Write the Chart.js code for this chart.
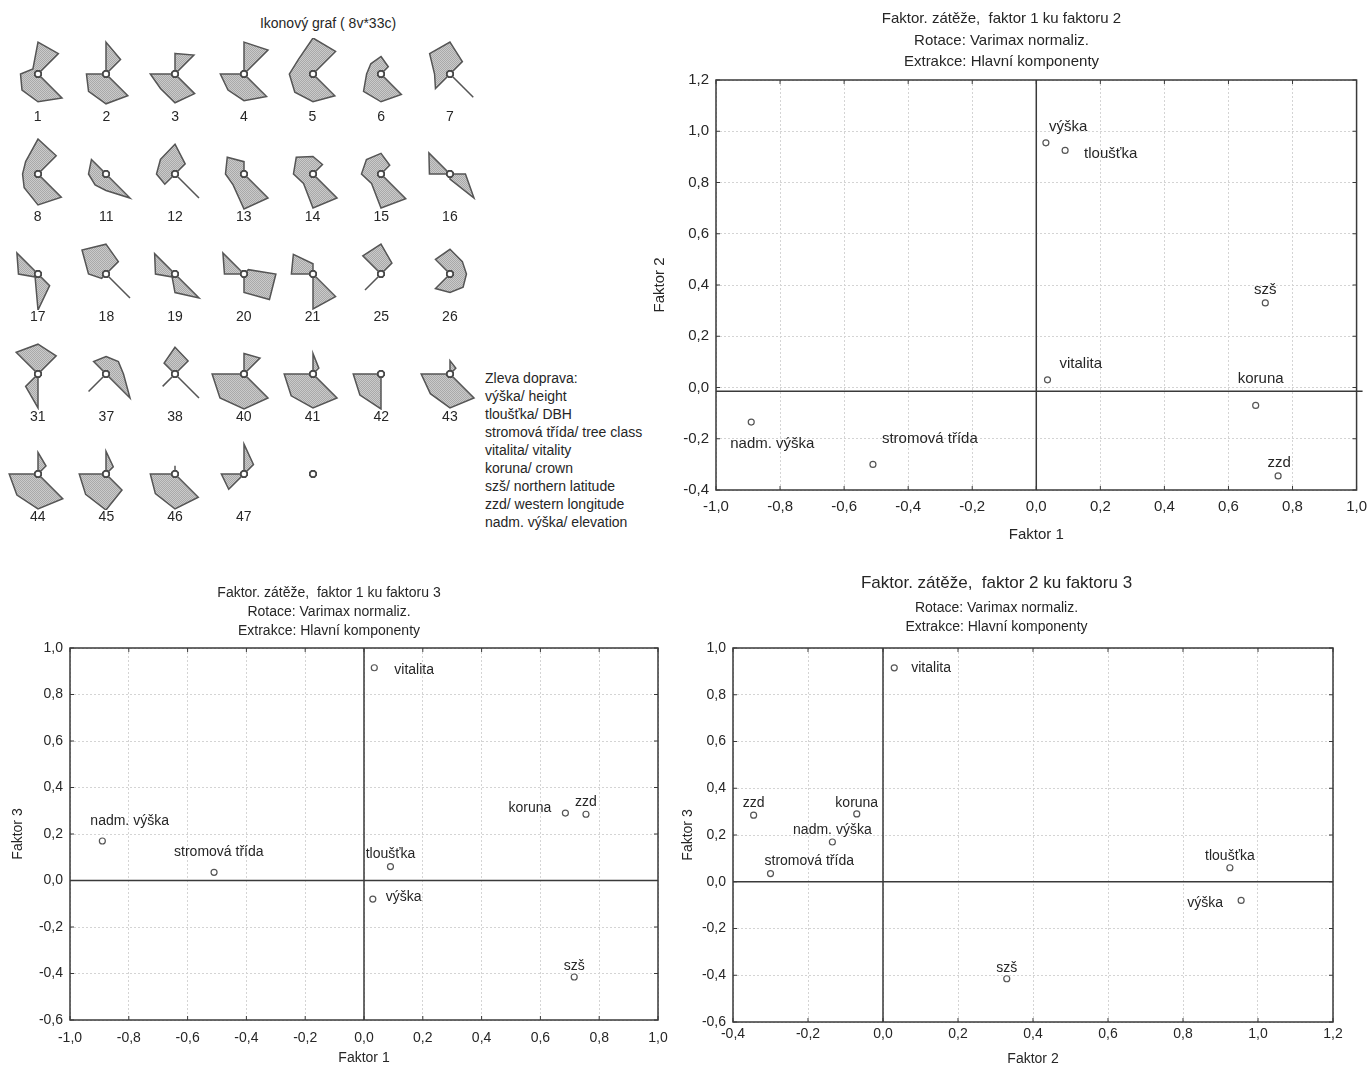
<!DOCTYPE html>
<html>
<head>
<meta charset="utf-8">
<title>Ikonový graf a faktorové zátěže</title>
<script src="https://cdn.jsdelivr.net/npm/chart.js@4.4.1/dist/chart.umd.min.js"></script>
<style>
  html, body { margin: 0; padding: 0; background: #fff; }
  body { width: 1370px; height: 1068px; position: relative; overflow: hidden;
         font-family: 'Liberation Sans', Arial, sans-serif; color: #262626; }
  canvas { position: absolute; }
  .case { position: absolute; width: 40px; text-align: center; font-size: 14px; line-height: 16px; }
  #iconTitle { position: absolute; left: 228px; top: 15px; width: 200px; text-align: center;
               font-size: 14px; line-height: 16px; }
  #legend { position: absolute; left: 485px; top: 369px; font-size: 14px; line-height: 18px; white-space: nowrap; }
</style>
</head>
<body>
<div id="iconTitle">Ikonový graf ( 8v*33c)</div>
<div id="legend"></div>
<canvas id="f12" width="730" height="545" style="left:645px;top:0px"></canvas>
<canvas id="f13" width="724" height="508" style="left:0px;top:560px"></canvas>
<canvas id="f23" width="700" height="508" style="left:660px;top:560px"></canvas>
<script>
// --- icon graph: 33 cases, 8 variables (rays clockwise from 12 o'clock)
const caseLabels = ['1', '2', '3', '4', '5', '6', '7', '8', '11', '12', '13', '14', '15', '16', '17', '18',
  '19', '20', '21', '25', '26', '31', '37', '38', '40', '41', '42', '43', '44', '45', '46', '47', ''];
const variables = ['výška', 'tloušťka', 'stromová třída', 'vitalita', 'koruna', 'szš', 'zzd', 'nadm. výška'];
const vyska     = [31, 31, 20, 31, 35, 17, 31, 34, 0, 29, 12, 17, 20, 0, 0, 29, 0, 0, 10, 29, 24, 29, 17, 26, 20, 20, 0, 13, 21, 22, 8, 29, 0];
const tloustka  = [28, 20, 26, 33, 31, 10, 17, 25, 0, 14, 0, 13, 12, 0, 0, 17, 0, 6, 0, 15, 17, 25, 17, 18, 22, 8, 0, 8, 11, 10, 0, 13, 0];
const stromova  = [0, 0, 0, 0, 0, 0, 0, 0, 0, 0, 0, 0, 0, 15, 0, 0, 0, 31, 0, 0, 16, 0, 17, 0, 0, 0, 0, 0, 0, 0, 0, 0, 0];
const vitalita  = [33, 30, 27, 31, 30, 28, 32, 32, 33, 33, 33, 33, 34, 33, 16, 33, 33, 35, 31, 0, 18, 0, 33, 33, 33, 33, 0, 33, 34, 22, 32, 0, 0];
const koruna    = [27, 29, 28, 26, 27, 27, 0, 30, 16, 0, 34, 33, 33, 5, 35, 0, 18, 18, 34, 0, 18, 33, 0, 0, 34, 33, 34, 33, 34, 35, 34, 0, 0];
const szs       = [22, 24, 20, 22, 25, 24, 20, 19, 15, 14, 15, 13, 13, 0, 4, 6, 4, 0, 0, 22, 20, 17, 24, 17, 33, 30, 29, 27, 29, 28, 27, 21, 0];
const zzd       = [17, 19, 24, 23, 23, 14, 15, 15, 17, 18, 18, 19, 19, 20, 19, 17, 19, 19, 21, 0, 0, 0, 0, 0, 31, 28, 27, 28, 28, 26, 24, 22, 0];
const nadmVyska = [7, 0, 0, 0, 20, 14, 28, 17, 20, 20, 23, 23, 20, 29, 29, 33, 28, 29, 27, 25, 20, 30, 17, 15, 0, 0, 0, 0, 0, 0, 0, 0, 0];
const legendLines = ['Zleva doprava:', 'výška/ height', 'tloušťka/ DBH', 'stromová třída/ tree class',
  'vitalita/ vitality', 'koruna/ crown', 'szš/ northern latitude', 'zzd/ western longitude', 'nadm. výška/ elevation'];

// --- factor loadings (Varimax normaliz., Hlavní komponenty)
const faktor1 = [0.03, 0.09, -0.51, 0.035, 0.685, 0.715, 0.755, -0.89];
const faktor2 = [0.955, 0.925, -0.30, 0.03, -0.07, 0.33, -0.345, -0.135];
const faktor3 = [-0.08, 0.06, 0.035, 0.915, 0.29, -0.415, 0.285, 0.17];
const ticksF1 = [-1.0, -0.8, -0.6, -0.4, -0.2, 0.0, 0.2, 0.4, 0.6, 0.8, 1.0];
const ticksF2 = [-0.4, -0.2, 0.0, 0.2, 0.4, 0.6, 0.8, 1.0, 1.2];
const ticksF3 = [-0.6, -0.4, -0.2, 0.0, 0.2, 0.4, 0.6, 0.8, 1.0];

Chart.defaults.font.family = "'Liberation Sans', Arial, sans-serif";
Chart.defaults.color = '#262626';

document.getElementById('legend').innerHTML = legendLines.map(t => '<div>' + t + '</div>').join('');

// stipple texture for the star polygons
const tile = document.createElement('canvas');
tile.width = 2; tile.height = 2;
const tctx = tile.getContext('2d');
tctx.fillStyle = '#cacaca'; tctx.fillRect(0, 0, 2, 2);
tctx.fillStyle = '#a9a9a9'; tctx.fillRect(0, 0, 1, 1); tctx.fillRect(1, 1, 1, 1);
const stipple = tctx.createPattern(tile, 'repeat');

caseLabels.forEach((lab, i) => {
  const col = i % 7, row = Math.floor(i / 7);
  const cx = 37.7 + col * 68.7, cy = 74 + row * 100;
  const cv = document.createElement('canvas');
  cv.width = 72; cv.height = 72;
  cv.style.left = (cx - 36) + 'px';
  cv.style.top = (cy - 36) + 'px';
  document.body.appendChild(cv);
  const values = [vyska[i], tloustka[i], stromova[i], vitalita[i], koruna[i], szs[i], zzd[i], nadmVyska[i]];
  new Chart(cv, {
    type: 'radar',
    data: {
      labels: variables,
      datasets: [{
        data: [0, 0, 0, 0, 0, 0, 0, 0],
        showLine: false,
        fill: false,
        borderWidth: 0,
        pointRadius: 3,
        pointBackgroundColor: '#fff',
        pointBorderColor: '#4a4a4a',
        pointBorderWidth: 1.3
      }, {
        data: values,
        fill: true,
        backgroundColor: stipple,
        borderColor: '#555',
        borderWidth: 1.5,
        pointRadius: 0,
        tension: 0
      }]
    },
    options: {
      responsive: false,
      animation: false,
      events: [],
      layout: { padding: 0 },
      plugins: { legend: { display: false }, tooltip: { enabled: false } },
      scales: {
        r: {
          min: 0, max: 35, display: false,
          ticks: { display: false },
          pointLabels: { display: false },
          grid: { display: false },
          angleLines: { display: false }
        }
      }
    }
  });
  const d = document.createElement('div');
  d.className = 'case';
  d.textContent = lab;
  d.style.left = (cx - 20) + 'px';
  d.style.top = (cy + 34) + 'px';
  document.body.appendChild(d);
});

// --- scatter plots of loadings
const fmt = v => v.toFixed(1).replace('.', ',');

const framePlugin = {
  id: 'frame',
  beforeDatasetsDraw(chart, args, opts) {
    const { ctx, chartArea: a, scales: { x, y } } = chart;
    ctx.save();
    ctx.strokeStyle = '#3a3a3a';
    ctx.lineWidth = 1;
    ctx.beginPath();
    x.ticks.forEach(t => {
      const px = x.getPixelForValue(t.value);
      ctx.moveTo(px, a.top); ctx.lineTo(px, a.top + 4);
      ctx.moveTo(px, a.bottom); ctx.lineTo(px, a.bottom - 4);
    });
    y.ticks.forEach(t => {
      const py = y.getPixelForValue(t.value);
      ctx.moveTo(a.left, py); ctx.lineTo(a.left + 4, py);
      ctx.moveTo(a.right, py); ctx.lineTo(a.right - 4, py);
    });
    ctx.stroke();
    // reference lines through the origin
    ctx.lineWidth = 1.5;
    ctx.beginPath();
    const zx = x.getPixelForValue(0);
    const zy = y.getPixelForValue(opts.hLine || 0);
    ctx.moveTo(zx, a.top); ctx.lineTo(zx, a.bottom);
    ctx.moveTo(a.left, zy); ctx.lineTo(a.right + (opts.hExtend || 0), zy);
    ctx.stroke();
    ctx.strokeRect(a.left, a.top, a.right - a.left, a.bottom - a.top);
    ctx.restore();
  }
};

const nameLabels = {
  id: 'nameLabels',
  afterDatasetsDraw(chart, args, opts) {
    const ctx = chart.ctx;
    const meta = chart.getDatasetMeta(0);
    ctx.save();
    ctx.font = opts.size + "px 'Liberation Sans', Arial, sans-serif";
    ctx.fillStyle = '#262626';
    ctx.textBaseline = 'middle';
    meta.data.forEach((pt, i) => {
      const p = opts.place[i];
      ctx.textAlign = p[2];
      ctx.fillText(variables[i], pt.x + p[0], pt.y + p[1]);
    });
    ctx.restore();
  }
};

function axis(ticks, fontSize, title, titlePad, fitSize, horizontal, tickPad) {
  return {
    type: 'linear',
    min: ticks[0],
    max: ticks[ticks.length - 1],
    ticks: { stepSize: 0.2, callback: v => fmt(v), font: { size: fontSize }, padding: tickPad, color: '#262626' },
    grid: { drawTicks: false, color: '#d4d4d4', lineWidth: 1 },
    border: { display: false, dash: [2, 2] },
    title: { display: true, text: title, font: { size: fontSize }, padding: titlePad, color: '#262626' },
    afterFit: s => { if (horizontal) s.height = fitSize; else s.width = fitSize; }
  };
}

function loadingChart(id, xs, ys, cfg) {
  new Chart(document.getElementById(id), {
    type: 'scatter',
    data: {
      datasets: [{
        data: xs.map((v, i) => ({ x: v, y: ys[i] })),
        pointRadius: 3,
        pointBackgroundColor: '#fff',
        pointBorderColor: '#555',
        pointBorderWidth: 1.2
      }]
    },
    options: {
      responsive: false,
      animation: false,
      events: [],
      layout: { padding: { left: 0, right: cfg.padRight, top: 0, bottom: 0 } },
      plugins: {
        legend: { display: false },
        tooltip: { enabled: false },
        title: {
          display: true, text: cfg.title[0], color: '#262626',
          font: { size: cfg.titleSize, weight: 'normal', lineHeight: 1.2 }, padding: cfg.titlePad
        },
        subtitle: {
          display: true, text: cfg.title.slice(1), color: '#262626',
          font: { size: cfg.subSize, lineHeight: cfg.subLine }, padding: cfg.subPad
        },
        frame: { hLine: cfg.hLine, hExtend: cfg.hExtend },
        nameLabels: { place: cfg.place, size: cfg.labelSize }
      },
      scales: {
        x: axis(cfg.xTicks, cfg.tickSize, cfg.xTitle, { top: 0, bottom: cfg.xTitlePad }, cfg.xHeight, true, cfg.xTickPad),
        y: axis(cfg.yTicks, cfg.tickSize, cfg.yTitle, { top: cfg.yTitlePad, bottom: 0 }, cfg.yWidth, false, 7)
      }
    },
    plugins: [framePlugin, nameLabels]
  });
}

loadingChart('f12', faktor1, faktor2, {
  title: ['Faktor. zátěže,  faktor 1 ku faktoru 2', 'Rotace: Varimax normaliz.', 'Extrakce: Hlavní komponenty'],
  titleSize: 15, titlePad: { top: 10, bottom: 2.5 }, subSize: 15, subLine: '21px', subPad: { top: 0, bottom: 7.5 },
  xTicks: ticksF1, yTicks: ticksF2, xTitle: 'Faktor 1', yTitle: 'Faktor 2',
  tickSize: 15, xHeight: 55, yWidth: 71, xTitlePad: 1, yTitlePad: 6, xTickPad: 8, padRight: 17,
  labelSize: 15, hLine: -0.015, hExtend: 6,
  place: [[3, -16, 'left'], [19, 3, 'left'], [9, -26, 'left'], [12, -16, 'left'],
          [5, -27, 'center'], [0, -13, 'center'], [1, -13, 'center'], [-21, 22, 'left']]
});

loadingChart('f13', faktor1, faktor3, {
  title: ['Faktor. zátěže,  faktor 1 ku faktoru 3', 'Rotace: Varimax normaliz.', 'Extrakce: Hlavní komponenty'],
  titleSize: 14, titlePad: { top: 24.4, bottom: 1.2 }, subSize: 14, subLine: '19.3px', subPad: { top: 0, bottom: 7 },
  xTicks: ticksF1, yTicks: ticksF3, xTitle: 'Faktor 1', yTitle: 'Faktor 3',
  tickSize: 14, xHeight: 48, yWidth: 70, xTitlePad: 1.6, yTitlePad: 9.6, xTickPad: 9.6, padRight: 66,
  labelSize: 14,
  place: [[13, -2, 'left'], [0, -12, 'center'], [-40, -20, 'left'], [20, 2, 'left'],
          [-14, -5, 'right'], [0, -11, 'center'], [0, -12, 'center'], [-12, -20, 'left']]
});

loadingChart('f23', faktor2, faktor3, {
  title: ['Faktor. zátěže,  faktor 2 ku faktoru 3', 'Rotace: Varimax normaliz.', 'Extrakce: Hlavní komponenty'],
  titleSize: 17, titlePad: { top: 12.8, bottom: 5 }, subSize: 14, subLine: '19px', subPad: { top: 0, bottom: 11.8 },
  xTicks: [-0.4, -0.2, 0.0, 0.2, 0.4, 0.6, 0.8, 1.0, 1.2], yTicks: ticksF3, xTitle: 'Faktor 2', yTitle: 'Faktor 3',
  tickSize: 14, xHeight: 46, yWidth: 73, xTitlePad: 0, yTitlePad: 19.6, xTickPad: 3.6, padRight: 27,
  labelSize: 14,
  place: [[-18, 3, 'right'], [0, -12, 'center'], [-6, -12, 'left'], [17, 0, 'left'],
          [0, -11, 'center'], [0, -11, 'center'], [0, -12, 'center'], [0, -12, 'center']]
});
</script>
</body>
</html>
